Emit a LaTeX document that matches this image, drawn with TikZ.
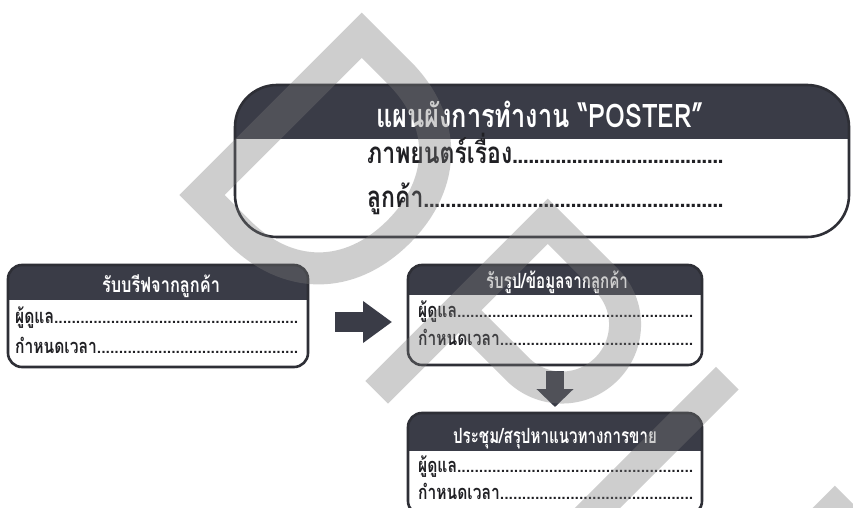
\documentclass[tikz,border=0pt]{standalone}
\usepackage{fontspec}
\newfontfamily\thai[Script=Thai,FakeStretch=0.78]{Loma}
\newfontfamily\thainarrow[Script=Thai,FakeStretch=0.72]{Loma}
\usetikzlibrary{arrows.meta,calc}

\definecolor{hdr}{HTML}{3A3C47}
\definecolor{edge}{HTML}{2E2F36}
\definecolor{ink}{HTML}{202024}
\definecolor{wm}{HTML}{787878}

% label followed by a dotted fill-in line: width, dot pitch, label
\newcommand\fillline[3]{\makebox[#1][l]{#3\xleaders\hbox to #2{\hss.\hss}\hfill}}

% white panel with a dark title band, built on a named node
\newcommand\panel[3]{%
  \begin{scope}
    \clip[rounded corners=#2] (#1.north west) rectangle (#1.south east);
    \fill[white] (#1.north west) rectangle (#1.south east);
    \fill[hdr] (#1.north west) rectangle ($(#1.north east)+(0,#3)$);
  \end{scope}
  \draw[edge, line width=2.6pt, rounded corners=#2] (#1.north west) rectangle (#1.south east);
}

\tikzset{
  frame/.style={rectangle, inner sep=0pt, outer sep=0pt},
  bighead/.style={inner sep=0pt, text=white, font=\thai\bfseries\fontsize{32.5}{33}\selectfont},
  bigline/.style={inner sep=0pt, text=ink, anchor=base west, font=\thai\bfseries\fontsize{29.5}{30}\selectfont},
  smallhead/.style={inner sep=0pt, text=white, font=\thainarrow\bfseries\fontsize{21}{21}\selectfont},
  smallline/.style={inner sep=0pt, text=ink, anchor=base west, text depth=1pt, font=\thai\bfseries\fontsize{20}{20}\selectfont},
  blockright/.style={draw=hdr, line width=20pt, -{Triangle[width=40pt,length=29pt]}},
  blockdown/.style={draw=hdr, line width=18pt, -{Triangle[width=36pt,length=18pt]}},
  wmark/.style={draw=wm, draw opacity=0.36, line width=32pt, miter limit=10}
}

\begin{document}
\begin{tikzpicture}[x=1pt,y=-1pt]
\useasboundingbox (0,0) rectangle (853,508);
\clip (0,0) rectangle (853,508);
\fill[white] (0,0) rectangle (853,508);

% ---- panels ----
\node[frame, minimum width=614pt, minimum height=152pt] (plan)  at (542,161) {};
\node[frame, minimum width=300pt, minimum height=102pt] (brief) at (158,316) {};
\node[frame, minimum width=294pt, minimum height=100pt] (photo) at (555,315) {};
\node[frame, minimum width=294pt, minimum height=102pt] (meet)  at (555,464) {};

\panel{plan}{42pt}{54}
\panel{brief}{14pt}{35}
\panel{photo}{14pt}{30}
\panel{meet}{14pt}{38}

% ---- texts ----
\node[bighead, anchor=base] (planT) at (540,128) {แผนผังการทำงาน “POSTER”};
\node[bigline] (planA) at (367,163) {\fillline{356pt}{5.4pt}{ภาพยนตร์เรื่อง}};
\node[bigline] (planB) at (367,207) {\fillline{356pt}{5.4pt}{ลูกค้า}};

\node[smallhead, anchor=base] (briefT) at (161,292) {\thai รับบรีฟจากลูกค้า};
\node[smallline] (briefA) at (15,323) {\fillline{283pt}{4.3pt}{ผู้ดูแล}};
\node[smallline] (briefB) at (15,353) {\fillline{283pt}{4.3pt}{กำหนดเวลา}};

\node[smallhead, anchor=base] (photoT) at (557,288) {รับรูป/ข้อมูลจากลูกค้า};
\node[smallline] (photoA) at (418,317) {\fillline{275pt}{4.3pt}{ผู้ดูแล}};
\node[smallline] (photoB) at (418,345) {\fillline{275pt}{4.3pt}{กำหนดเวลา}};

\node[smallhead, anchor=base] (meetT) at (555,443) {ประชุม/สรุปหาแนวทางการขาย};
\node[smallline] (meetA) at (418,472) {\fillline{275pt}{4.3pt}{ผู้ดูแล}};
\node[smallline] (meetB) at (418,499) {\fillline{275pt}{4.3pt}{กำหนดเวลา}};

% ---- flow arrows ----
\draw[blockright] ($(brief.east)+(27,6)$) -- ($(photo.west)+(-16,7)$);
\draw[blockdown] ($(photo.south)+(0,6)$) -- ($(meet.north)+(0,-6)$);

% ---- watermark lettering, drawn along a 45 degree baseline ----
\begin{scope}[x=1pt, y=1pt, shift={(388pt,-381pt)}, rotate=-45]
  % D
  \draw[wmark] (-211,0) -- (-263,0) -- (-263,226) -- (-211,226)
    .. controls (-142,226) and (-98,182) .. (-98,113)
    .. controls (-98,44) and (-142,0) .. (-211,0) -- cycle;
  % P
  \draw[wmark] (0,-16) -- (0,226) -- (83,226)
    .. controls (118,226) and (146,198) .. (146,163)
    .. controls (146,128) and (118,100) .. (83,100) -- (0,100);
  % I
  \draw[wmark] (238,-120) -- (238,242);
  % corner of the next letter
  \draw[wmark] (406,-120) -- (406,226) -- (520,226);
\end{scope}
\end{tikzpicture}
\end{document}
